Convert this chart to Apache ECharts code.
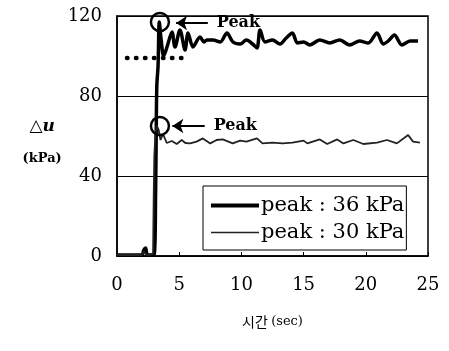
<!DOCTYPE html>
<html>
<head>
<meta charset="utf-8">
<script src="https://cdn.jsdelivr.net/npm/echarts@6/dist/echarts.min.js"></script>
<style>
  html, body { margin: 0; padding: 0; background: #fff; }
  #chart { width: 449px; height: 351px; }
</style>
</head>
<body>
<div id="chart"></div>
<script>
// time (sec) and pore pressure (kPa)
const timeA = [0, 1.0, 2.0, 2.15, 2.3, 2.45, 3.0, 3.1, 3.15, 3.2, 3.3, 3.4, 3.55, 3.75, 4.02, 4.42, 4.66, 5.06, 5.47, 5.71, 6.11, 6.67, 7.0, 7.23, 7.72, 8.3, 8.84, 9.32, 9.9, 10.4, 10.9, 11.25, 11.5, 11.9, 12.5, 13.1, 13.6, 14.1, 14.5, 15.0, 15.5, 16.3, 17.1, 17.9, 18.7, 19.5, 20.2, 20.9, 21.4, 21.8, 22.3, 22.9, 23.55, 24.2];
const valueA = [0.5, 0.5, 0.5, 3, 4, 0.5, 1, 30, 60, 85, 95, 117, 108, 100, 104.5, 112, 104.5, 113, 103, 111.5, 104.5, 109.5, 107, 108, 108, 107, 111.5, 107, 106, 108, 106, 104, 113, 107, 108, 106, 109, 111.5, 106.5, 107, 105.5, 108, 106.5, 108, 105.5, 107.5, 106.5, 111.5, 106, 107.5, 110.5, 105.5, 107.5, 107.5];

const timeB = [0, 1.0, 2.0, 2.15, 2.3, 2.45, 2.9, 2.95, 3.0, 3.1, 3.2, 3.35, 3.5, 3.7, 4.0, 4.4, 4.8, 5.2, 5.5, 5.87, 6.4, 6.9, 7.5, 8.0, 8.5, 9.3, 9.9, 10.4, 11.25, 11.7, 12.5, 13.3, 14.1, 15.0, 15.3, 16.3, 16.9, 17.7, 18.2, 19.0, 19.8, 20.9, 21.7, 22.5, 23.4, 23.8, 24.35];
const valueB = [0.5, 0.5, 0.5, 2, 3, 0.5, 1, 30, 50, 62, 65, 63, 58, 61, 56.5, 57.5, 56, 58, 56.5, 56.3, 57.2, 58.8, 56.3, 58, 58.3, 56.3, 57.7, 57.2, 58.8, 56.3, 56.7, 56.3, 56.7, 57.7, 56.3, 58.3, 56, 58.3, 56.3, 58, 56, 56.7, 58, 56.3, 60.5, 57.2, 56.7];

// dotted reference level
const refTime = [0.8, 5.7];
const refValue = [99, 99];

const seriesNames = ['peak : 36 kPa', 'peak : 30 kPa'];
const peakA = [3.45, 117];
const peakB = [3.45, 65];
const xTicks = [0, 5, 10, 15, 20, 25];
const yTicks = [0, 40, 80, 120];

const zip = (t, v) => t.map((x, i) => [x, v[i]]);

const serif = 'DejaVu Serif';
const chart = echarts.init(document.getElementById('chart'));

function peakMarks(pt, arrowFrom, arrowTo) {
  return {
    markPoint: {
      silent: true,
      symbol: 'circle',
      symbolSize: 18,
      itemStyle: { color: 'rgba(0,0,0,0)', borderColor: '#000', borderWidth: 2.5 },
      label: { show: false },
      data: [{ coord: pt }]
    },
    markLine: {
      silent: true,
      symbol: ['none', 'arrow'],
      symbolSize: 11,
      lineStyle: { color: '#000', width: 2, type: 'solid' },
      label: {
        show: true, position: 'start', formatter: 'Peak', color: '#000',
        fontFamily: serif, fontWeight: 'bold', fontSize: 16, distance: 9
      },
      data: [[{ coord: arrowFrom }, { coord: arrowTo }]]
    }
  };
}

chart.setOption({
  animation: false,
  backgroundColor: '#fff',
  grid: { left: 117, right: 21, top: 16, bottom: 95, show: true, borderColor: '#000', borderWidth: 1.5 },
  legend: {
    data: [
      { name: seriesNames[0], icon: 'path://M0,0L48,0L48,4L0,4Z', itemStyle: { color: '#000' } },
      { name: seriesNames[1], icon: 'path://M0,0L48,0L48,1.6L0,1.6Z', itemStyle: { color: '#222' } }
    ],
    orient: 'vertical',
    left: 203, top: 186,
    backgroundColor: '#fff',
    borderColor: '#000', borderWidth: 1,
    padding: [9, 2, 7, 8],
    itemWidth: 48, itemHeight: 14, itemGap: 6,
    textStyle: { fontFamily: serif, fontSize: 21, color: '#000', padding: [0, 0, 0, -3] }
  },
  xAxis: {
    type: 'value', min: 0, max: 25, interval: 5,
    name: '{k|시간} {s|(sec)}',
    nameLocation: 'middle', nameGap: 59,
    nameTextStyle: {
      rich: {
        k: { fontFamily: 'Noto Sans CJK KR', fontSize: 14, color: '#000' },
        s: { fontFamily: serif, fontSize: 13, color: '#000' }
      }
    },
    axisLine: { lineStyle: { color: '#000', width: 1.5 } },
    axisTick: { inside: true, length: 4, lineStyle: { color: '#000' } },
    axisLabel: { fontFamily: serif, fontSize: 18, color: '#000', margin: 20,
      formatter: v => xTicks.includes(v) ? String(v) : '' },
    splitLine: { show: false }
  },
  yAxis: {
    type: 'value', min: 0, max: 120, interval: 40,
    name: '{a|△}{b|u}\n{c|(kPa)}',
    nameLocation: 'middle', nameRotate: 0, nameGap: 66,
    nameTextStyle: {
      align: 'center',
      padding: [13, 0, 0, 0],
      rich: {
        a: { fontFamily: 'DejaVu Sans', fontSize: 17, color: '#000', lineHeight: 32, align: 'center' },
        b: { fontFamily: serif, fontStyle: 'italic', fontWeight: 'bold', fontSize: 17, color: '#000', lineHeight: 32, align: 'center' },
        c: { fontFamily: serif, fontWeight: 'bold', fontSize: 13, color: '#000', lineHeight: 32, align: 'center' }
      }
    },
    axisLine: { lineStyle: { color: '#000', width: 1.5 } },
    axisTick: { show: false },
    axisLabel: { fontFamily: serif, fontSize: 18, color: '#000', margin: 15,
      formatter: v => yTicks.includes(v) ? String(v) : '' },
    splitLine: { lineStyle: { color: '#000', width: 1 } }
  },
  series: [
    Object.assign({
      name: seriesNames[0], type: 'line', data: zip(timeA, valueA),
      symbol: 'none', smooth: 0.3,
      lineStyle: { color: '#000', width: 3.5 }, itemStyle: { color: '#000' }
    }, peakMarks(peakA, [7.3, 116.5], [4.75, 116.5])),
    Object.assign({
      name: seriesNames[1], type: 'line', data: zip(timeB, valueB),
      symbol: 'none',
      lineStyle: { color: '#222', width: 1.8 }, itemStyle: { color: '#222' }
    }, peakMarks(peakB, [7.05, 65], [4.45, 65])),
    {
      name: 'ref', type: 'line', data: zip(refTime, refValue),
      symbol: 'none', silent: true,
      lineStyle: { color: '#000', width: 4.5, type: [0.5, 8.5], cap: 'round' }
    }
  ]
});
</script>
</body>
</html>
